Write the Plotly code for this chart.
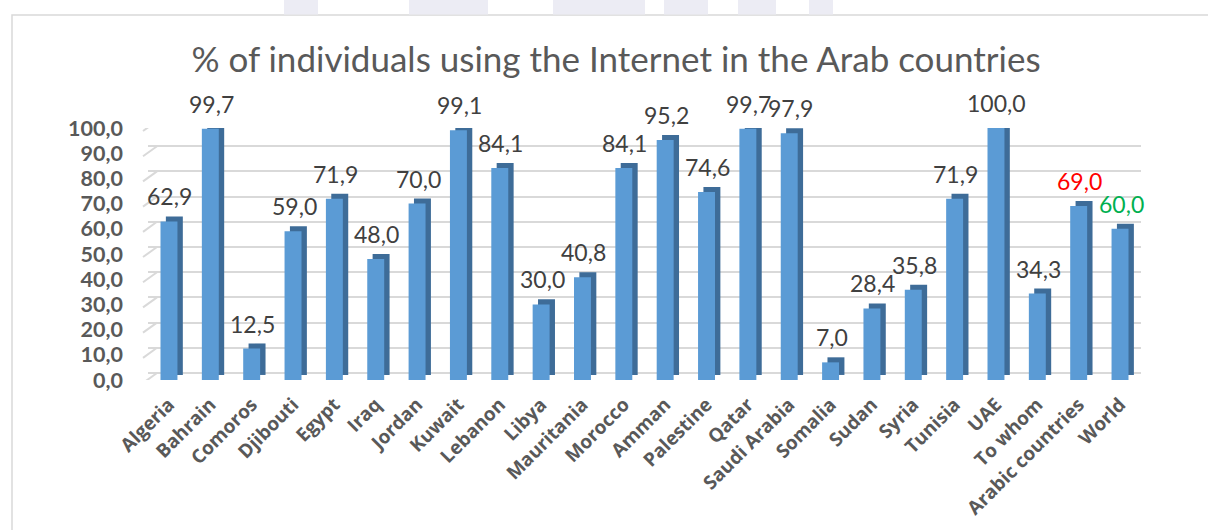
import plotly.graph_objects as go

categories = ["Algeria", "Bahrain", "Comoros", "Djibouti", "Egypt", "Iraq", "Jordan",
              "Kuwait", "Lebanon", "Libya", "Mauritania", "Morocco", "Amman", "Palestine",
              "Qatar", "Saudi Arabia", "Somalia", "Sudan", "Syria", "Tunisia", "UAE",
              "To whom", "Arabic countries", "World"]
values = [62.9, 99.7, 12.5, 59.0, 71.9, 48.0, 70.0, 99.1, 84.1, 30.0, 40.8, 84.1,
          95.2, 74.6, 99.7, 97.9, 7.0, 28.4, 35.8, 71.9, 100.0, 34.3, 69.0, 60.0]
label_colors = ["#404040"] * 22 + ["#FF0000", "#00B050"]
y_ticks = [0, 10, 20, 30, 40, 50, 60, 70, 80, 90, 100]

W, H = 1208, 530
L, R, T, B = 143, 56, 128, 150
PW = W - L - R
PH = H - T - B
FRONT = "#5B9BD5"
SIDE = "#3E6C98"
GRID = "#D9D9D9"
DEPTH_Y = 7 / PH * 100  # back-wall shift in data units
BAR_W = 0.41
SIDE_DX = 0.13
SIDE_DY = 2.0

def px_x(p):
    return (p - L) / PW

def px_y(p):
    return (H - B - p) / PH

fig = go.Figure()
# side / top face (darker, shifted up-right)
fig.add_trace(go.Bar(
    x=categories, y=values, base=SIDE_DY, width=BAR_W,
    offset=-BAR_W / 2 + SIDE_DX, marker=dict(color=SIDE, line=dict(width=0)),
    hoverinfo="skip", cliponaxis=False, showlegend=False))
# front face
fig.add_trace(go.Bar(
    x=categories, y=values, width=BAR_W, offset=-BAR_W / 2,
    marker=dict(color=FRONT, line=dict(width=0)), cliponaxis=False, showlegend=False))

# back-wall gridlines on a helper axis
fig.add_trace(go.Scatter(x=[None], y=[None], xaxis="x2", yaxis="y2",
                         showlegend=False, hoverinfo="skip"))

annotations = []
for c, v, col in zip(categories, values, label_colors):
    annotations.append(dict(
        x=c, y=v, xref="x", yref="y", text=f"{v:.1f}".replace(".", ","),
        showarrow=False, yshift=25, xshift=1, yanchor="middle",
        font=dict(family="Lato", size=23, color=col)))

shapes = []
# slanted left-wall segments of gridlines
for t in y_ticks:
    shapes.append(dict(type="line", xref="paper", yref="y",
                       x0=0, y0=t - 1.2, x1=px_x(157), y1=t + DEPTH_Y,
                       line=dict(color=GRID, width=2), layer="below"))
# chart border
shapes.append(dict(type="rect", xref="paper", yref="paper",
                   x0=px_x(12), x1=px_x(1215), y0=px_y(15), y1=px_y(540),
                   line=dict(color="#D9D9D9", width=1.5), fillcolor="rgba(0,0,0,0)",
                   layer="below"))
# faint watermark fragments above the chart
for x0, x1 in [(284, 318), (409, 488), (553, 645), (664, 708), (738, 776), (809, 833)]:
    shapes.append(dict(type="rect", xref="paper", yref="paper",
                       x0=px_x(x0), x1=px_x(x1), y0=px_y(14.5), y1=px_y(-2),
                       line=dict(width=0), fillcolor="#ECECF4", layer="below"))

fig.update_layout(
    width=W, height=H,
    margin=dict(l=L, r=R, t=T, b=B, autoexpand=False),
    paper_bgcolor="white", plot_bgcolor="rgba(0,0,0,0)",
    separators=",.",
    barmode="overlay",
    title=dict(text="% of individuals using the Internet in the Arab countries",
               x=616 / W, xanchor="center", y=1 - 60 / H, yanchor="middle",
               yref="container", xref="container", automargin=False,
               font=dict(family="Lato", size=35, color="#595959")),
    xaxis=dict(domain=[px_x(148.3), px_x(1140.7)], showgrid=False, zeroline=False,
               showline=False, tickangle=-45, ticks="outside", ticklen=5,
               tickcolor="rgba(0,0,0,0)", automargin=False,
               tickfont=dict(family="Open Sans", size=19, color="#595959", weight="bold"),
               range=[-0.5, len(categories) - 0.5]),
    yaxis=dict(range=[0, 100], tickvals=y_ticks, tickformat=".1f", showgrid=False,
               zeroline=False, showline=False, ticks="outside", ticklen=20,
               tickcolor="rgba(0,0,0,0)", automargin=False,
               tickfont=dict(family="Lato", size=21.5, color="#595959", weight="bold")),
    xaxis2=dict(domain=[px_x(157), 1], anchor="y2", overlaying="x", visible=False,
                range=[0, 1]),
    yaxis2=dict(range=[-DEPTH_Y, 100 - DEPTH_Y], anchor="x2", overlaying="y",
                tickvals=y_ticks, showticklabels=False, showgrid=True,
                gridcolor=GRID, gridwidth=2, zeroline=False, showline=False),
    annotations=annotations,
    shapes=shapes,
)

fig.write_html("out.html")
